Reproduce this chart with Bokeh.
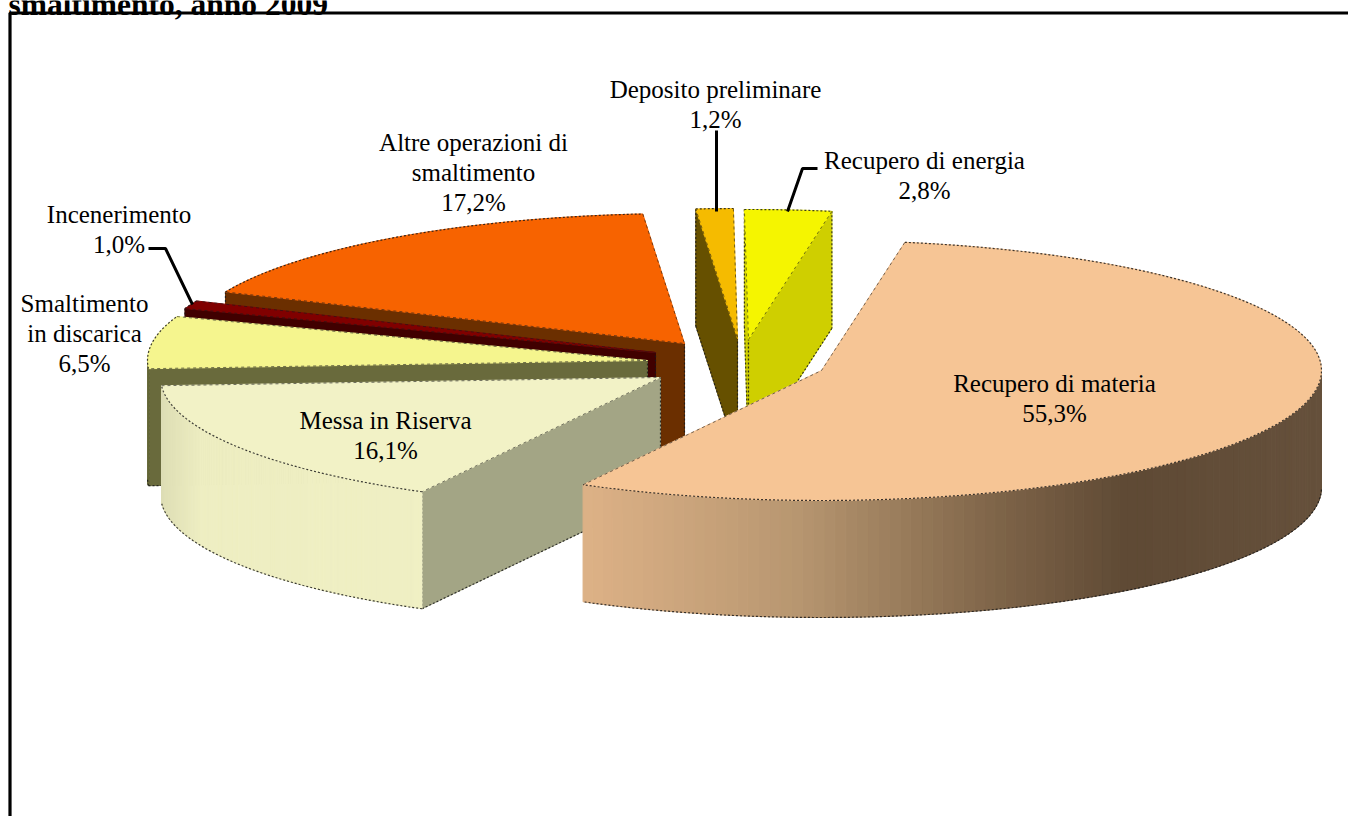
import numpy as np
from bokeh.plotting import figure
from bokeh.models import Range1d
from bokeh.core.properties import value
from bokeh.embed import file_html
from bokeh.resources import INLINE

# ---- data ----
categories = ["Recupero di materia", "Messa in Riserva", "Smaltimento in discarica", "Incenerimento",
              "Altre operazioni di smaltimento", "Deposito preliminare", "Recupero di energia"]
shares = [55.3, 16.1, 6.5, 1.0, 17.2, 1.2, 2.8]
title_text = "smaltimento, anno 2009"

# ---- layout / style ----
START = 80.4
RX, RY, DEPTH = 500, 130, 117
CENTERS = {"Recupero di materia": (821, 370), "Messa in Riserva": (660, 377),
           "Smaltimento in discarica": (647, 360), "Incenerimento": (655, 352),
           "Altre operazioni di smaltimento": (684, 343), "Deposito preliminare": (737, 338),
           "Recupero di energia": (748, 339)}
TOP = {"Recupero di materia": "#f6c595", "Messa in Riserva": "#f2f2c6",
       "Smaltimento in discarica": "#f5f58e", "Incenerimento": "#800000",
       "Altre operazioni di smaltimento": "#f76300", "Deposito preliminare": "#f5bb00",
       "Recupero di energia": "#f5f500"}
FACE = {"Recupero di materia": "#6b5540", "Messa in Riserva": "#a3a585",
        "Smaltimento in discarica": "#696a3c", "Incenerimento": "#400000",
        "Altre operazioni di smaltimento": "#6b2f00", "Deposito preliminare": "#665000",
        "Recupero di energia": "#cfcf00"}
WALL_STOPS = {"Recupero di materia": ([580, 800, 1000, 1130, 1322],
                                      [(223, 179, 136), (184, 151, 113), (127, 101, 73), (95, 74, 53), (102, 81, 60)]),
              "Messa in Riserva": ([160, 200, 415], [(222, 222, 181), (238, 238, 194), (240, 240, 196)]),
              "Smaltimento in discarica": ([140, 660], [(105, 106, 60), (105, 106, 60)]),
              "Incenerimento": ([140, 660], [(64, 0, 0), (64, 0, 0)]),
              "Altre operazioni di smaltimento": ([140, 700], [(107, 47, 0), (107, 47, 0)]),
              "Deposito preliminare": ([600, 800], [(102, 80, 0), (102, 80, 0)]),
              "Recupero di energia": ([700, 900], [(207, 207, 0), (207, 207, 0)])}
DRAW_ORDER = ["Altre operazioni di smaltimento", "Incenerimento", "Smaltimento in discarica",
              "Messa in Riserva", "Deposito preliminare", "Recupero di energia", "Recupero di materia"]
LABEL_LINES = {"Recupero di materia": ["Recupero di materia"], "Messa in Riserva": ["Messa in Riserva"],
               "Smaltimento in discarica": ["Smaltimento", "in discarica"], "Incenerimento": ["Incenerimento"],
               "Altre operazioni di smaltimento": ["Altre operazioni di", "smaltimento"],
               "Deposito preliminare": ["Deposito preliminare"], "Recupero di energia": ["Recupero di energia"]}
LABEL_POS = {"Recupero di materia": (1054, 383), "Messa in Riserva": (385, 420),
             "Smaltimento in discarica": (84, 303), "Incenerimento": (118.5, 214),
             "Altre operazioni di smaltimento": (473, 142), "Deposito preliminare": (715, 89),
             "Recupero di energia": (924, 160)}
LEADERS = [([716, 716], [130, 211]), ([817, 802, 787], [168, 168, 211]), ([148, 165, 192], [248, 248, 304])]
LINE_H = 30
FONT = value("Liberation Serif")

p = figure(width=1348, height=816, x_range=Range1d(0, 1348), y_range=Range1d(816, 0),
           toolbar_location=None, output_backend="svg", min_border=0)
p.axis.visible = False
p.grid.visible = False
p.outline_line_color = None
p.background_fill_color = "white"


def arc(cx, cy, a0, a1, n=90):
    t = np.radians(np.linspace(a0, a1, n))
    return cx + RX * np.cos(t), cy - RY * np.sin(t)


def wall_color(name, x):
    xs, cs = WALL_STOPS[name]
    c = [int(np.interp(x, xs, [k[i] for k in cs])) for i in range(3)]
    return "#%02x%02x%02x" % tuple(c)


# angles: clockwise from START, one span per share
total = sum(shares)
angles = {}
a = START
for name, s in zip(categories, shares):
    angles[name] = (a, a - 360 * s / total)
    a = a - 360 * s / total

DOT = dict(line_color="#1a1a1a", line_width=1.2, line_dash="2 2", line_alpha=0.85)

for name in DRAW_ORDER:
    cx, cy = CENTERS[name]
    hi, lo = angles[name]
    # radial cut faces that look at the viewer
    for ang, visible in ((hi, np.cos(np.radians(hi)) < 0), (lo, np.cos(np.radians(lo)) > 0)):
        if visible:
            ex = cx + RX * np.cos(np.radians(ang))
            ey = cy - RY * np.sin(np.radians(ang))
            xs = [cx, ex, ex, cx]
            ys = [cy, ey, ey + DEPTH, cy + DEPTH]
            p.patch(xs, ys, fill_color=FACE[name], line_color=FACE[name], line_width=1)
            p.line(xs[1:3], ys[1:3], **DOT)
            p.line(xs[2:], ys[2:], **DOT)
            p.line(xs[3:] + xs[:1], ys[3:] + ys[:1], **DOT)
    # outer wall: only the front half of the rim
    ax, ay = arc(cx, cy, hi, lo, 160)
    t = np.radians(np.linspace(hi, lo, 160))
    front = np.sin(t) < 0
    qx, qy, qc = [], [], []
    for i in range(len(t) - 1):
        if front[i] and front[i + 1]:
            qx.append([ax[i], ax[i + 1], ax[i + 1], ax[i]])
            qy.append([ay[i], ay[i + 1], ay[i + 1] + DEPTH, ay[i] + DEPTH])
            qc.append(wall_color(name, ax[i]))
    if qx:
        p.patches(qx, qy, fill_color=qc, line_color=qc, line_width=1)
        p.line(ax[front], ay[front] + DEPTH, **DOT)
    # top surface
    tx = np.r_[cx, ax]
    ty = np.r_[cy, ay]
    p.patch(tx, ty, fill_color=TOP[name], line_color=TOP[name], line_width=1)
    p.line(ax, ay, **DOT)
    p.line([ax[-1], cx, ax[0]], [ay[-1], cy, ay[0]], line_color="#1a1a1a", line_width=1, line_dash="3 3", line_alpha=0.6)

# frame, leaders
p.line([9.5, 9.5, 1348], [816, 12.5, 12.5], line_color="black", line_width=3.2)
for lx, ly in LEADERS:
    p.line(lx, ly, line_color="black", line_width=3)

# labels
tx, ty, tt = [], [], []
for name, s in zip(categories, shares):
    x, y = LABEL_POS[name]
    lines = LABEL_LINES[name] + [f"{s:.1f}%".replace(".", ",")]
    for i, ln in enumerate(lines):
        tx.append(x)
        ty.append(y + i * LINE_H)
        tt.append(ln)
p.text(tx, ty, text=tt, text_font=FONT, text_font_size="25px", text_align="center",
       text_baseline="middle", text_color="black")
p.text([8], [3.5], text=[title_text], text_font=FONT, text_font_size="31.5px", text_font_style="bold",
       text_align="left", text_baseline="alphabetic", text_color="black")

open("out.html", "w").write(file_html(p, INLINE))
